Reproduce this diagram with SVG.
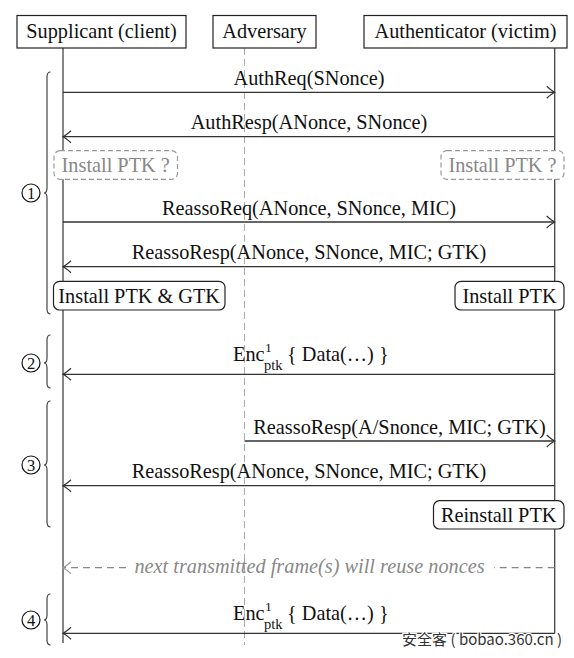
<svg xmlns="http://www.w3.org/2000/svg" width="574" height="658" viewBox="0 0 574 658">
<style>
.t{font-family:"Liberation Serif","Times New Roman",serif;font-size:20.3px;fill:#111}
.c{text-anchor:middle}
.g{fill:#888}
.box{fill:#fff;stroke:#222;stroke-width:1.2}
.rbox{fill:#fff;stroke:#222;stroke-width:1.2}
.dbox{fill:#fff;stroke:#999;stroke-width:1.2;stroke-dasharray:5,3}
.life{stroke:#444;stroke-width:1.3;fill:none}
.msg{stroke:#333;stroke-width:1.3;fill:none;marker-end:url(#ah)}
.dmsg{stroke:#888;stroke-width:1.2;fill:none;stroke-dasharray:7,5}
.brace{stroke:#444;stroke-width:1.2;fill:none}
.circ{fill:#fff;stroke:#111;stroke-width:1.2}
.num{font-family:"Liberation Serif","Times New Roman",serif;font-size:16.5px;fill:#111;text-anchor:middle}
</style>
<defs>
<marker id="ah" markerUnits="userSpaceOnUse" markerWidth="14" markerHeight="14" viewBox="-10 -7 12 14" refX="0" refY="0" orient="auto">
<path d="M -8 -6 Q -3 -1.5 0 0 Q -3 1.5 -8 6" fill="none" stroke="#333" stroke-width="1.2"/>
</marker>
<marker id="ahg" markerUnits="userSpaceOnUse" markerWidth="14" markerHeight="14" viewBox="-10 -7 12 14" refX="0" refY="0" orient="auto">
<path d="M -8 -6 Q -3 -1.5 0 0 Q -3 1.5 -8 6" fill="none" stroke="#999" stroke-width="1.2"/>
</marker>
</defs>
<rect width="574" height="658" fill="#fff"/>

<g id="lifelines">
<line class="life" x1="63" y1="48" x2="63" y2="643"/>
<line x1="244.5" y1="48" x2="244.5" y2="645" stroke="#aaa" stroke-width="1" stroke-dasharray="7,4"/>
<line class="life" x1="554.7" y1="48" x2="554.7" y2="633.3"/>
</g>

<g id="supplicant">
<rect class="box" x="17" y="15.5" width="169" height="32.5"/>
<text class="t c" x="101.5" y="37.5">Supplicant (client)</text>
</g>
<g id="adversary">
<rect class="box" x="213" y="15.5" width="103" height="32.5"/>
<text class="t c" x="264.5" y="37.5">Adversary</text>
</g>
<g id="authenticator">
<rect class="box" x="364" y="15.5" width="203" height="32.5"/>
<text class="t c" x="465.5" y="37.5">Authenticator (victim)</text>
</g>

<g id="connectors">
<line class="msg" x1="63" y1="92.3" x2="554.7" y2="92.3"/>
<text class="t c" x="309" y="84.5">AuthReq(SNonce)</text>
<line class="msg" x1="554.7" y1="136.7" x2="63" y2="136.7"/>
<text class="t c" x="309" y="129">AuthResp(ANonce, SNonce)</text>
<line class="msg" x1="63" y1="222" x2="554.7" y2="222"/>
<text class="t c" x="309" y="214.5">ReassoReq(ANonce, SNonce, MIC)</text>
<line class="msg" x1="554.7" y1="266.7" x2="63" y2="266.7"/>
<text class="t c" x="309" y="259">ReassoResp(ANonce, SNonce, MIC; GTK)</text>
<line class="msg" x1="554.7" y1="374.3" x2="63" y2="374.3"/>
<text class="t" x="233" y="361">Enc</text>
<text class="t" x="265" y="352" style="font-size:13.5px">1</text>
<text class="t" x="264" y="369.5" style="font-size:14.5px">ptk</text>
<text class="t" x="287" y="361">{ Data(…) }</text>
<line class="msg" x1="244.5" y1="441" x2="554.7" y2="441"/>
<text class="t c" x="399.5" y="433.5">ReassoResp(A/Snonce, MIC; GTK)</text>
<line class="msg" x1="554.7" y1="485.7" x2="63" y2="485.7"/>
<text class="t c" x="309" y="478">ReassoResp(ANonce, SNonce, MIC; GTK)</text>
<line class="dmsg" x1="554.7" y1="567.7" x2="494" y2="567.7"/>
<line class="dmsg" x1="126" y1="567.7" x2="63" y2="567.7" style="marker-end:url(#ahg)"/>
<text class="t c g" x="309.5" y="573" style="font-style:italic">next transmitted frame(s) will reuse nonces</text>
<line class="msg" x1="554.7" y1="633.3" x2="63" y2="633.3"/>
<text class="t" x="233" y="620">Enc</text>
<text class="t" x="265" y="611" style="font-size:13.5px">1</text>
<text class="t" x="264" y="628.5" style="font-size:14.5px">ptk</text>
<text class="t" x="287" y="620">{ Data(…) }</text>
</g>

<g id="install-ptk-q-supp">
<rect class="dbox" x="54" y="150.7" width="123.5" height="28.6" rx="6"/>
<text class="t c g" x="115.7" y="171.5">Install PTK ?</text>
</g>
<g id="install-ptk-q-auth">
<rect class="dbox" x="441" y="150.7" width="123" height="28.6" rx="6"/>
<text class="t c g" x="502.5" y="171.5">Install PTK ?</text>
</g>
<g id="install-ptk-gtk">
<rect class="rbox" x="53.5" y="281.3" width="171.5" height="28.7" rx="6"/>
<text class="t c" x="139.2" y="302.5">Install PTK &amp; GTK</text>
</g>
<g id="install-ptk">
<rect class="rbox" x="455" y="281.3" width="109" height="28.7" rx="6"/>
<text class="t c" x="509.5" y="302.5">Install PTK</text>
</g>
<g id="reinstall-ptk">
<rect class="rbox" x="433.5" y="500.7" width="130.5" height="28.3" rx="6"/>
<text class="t c" x="498.7" y="521.5">Reinstall PTK</text>
</g>

<g id="phase1">
<path class="brace" d="M 50.5 72 Q 47 72 47 77 L 47 188 Q 47 193 44 193 Q 47 193 47 198 L 47 309 Q 47 314 50.5 314"/>
<circle class="circ" cx="31" cy="193" r="9"/>
<text class="num" x="31" y="198.8">1</text>
</g>
<g id="phase2">
<path class="brace" d="M 50.5 335 Q 47 335 47 340 L 47 358 Q 47 363 44 363 Q 47 363 47 368 L 47 383 Q 47 388 50.5 388"/>
<circle class="circ" cx="31" cy="363" r="9"/>
<text class="num" x="31" y="368.8">2</text>
</g>
<g id="phase3">
<path class="brace" d="M 50.5 401 Q 47 401 47 406 L 47 460 Q 47 465 44 465 Q 47 465 47 470 L 47 522 Q 47 527 50.5 527"/>
<circle class="circ" cx="31" cy="465" r="9"/>
<text class="num" x="31" y="470.8">3</text>
</g>
<g id="phase4">
<path class="brace" d="M 50.5 594 Q 47 594 47 599 L 47 615 Q 47 620 44 620 Q 47 620 47 625 L 47 640 Q 47 645 50.5 645"/>
<circle class="circ" cx="31" cy="620" r="9"/>
<text class="num" x="31" y="625.8">4</text>
</g>

<text x="562" y="645" text-anchor="end" style="font-family:'Noto Sans CJK SC','DejaVu Sans',sans-serif;font-size:15px;fill:#333;stroke:#fff;stroke-width:2.5;paint-order:stroke">安全客 ( bobao.360.cn )</text>
</svg>
